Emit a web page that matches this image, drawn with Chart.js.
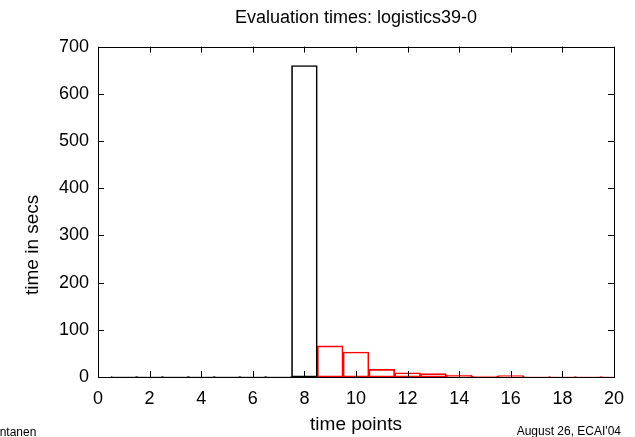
<!DOCTYPE html>
<html>
<head>
<meta charset="utf-8">
<script src="https://cdn.jsdelivr.net/npm/chart.js@4/dist/chart.umd.min.js"></script>
<style>
  html, body { margin: 0; padding: 0; background: #fff; }
  #wrap { position: relative; width: 635px; height: 437px; overflow: hidden; }
  .foot { position: absolute; font-family: "Liberation Sans", Arial, sans-serif; font-size: 12px; color: #000; white-space: nowrap; }
</style>
</head>
<body>
<div id="wrap">
  <canvas id="evalChart" width="635" height="437"></canvas>
  <div class="foot" style="left:-3px; top:425px;">intanen</div>
  <div class="foot" style="right:14px; top:424px;">August 26, ECAI'04</div>
</div>
<script>
// values
const titleText = 'Evaluation times: logistics39-0';
const yAxisLabel = 'time in secs';
const blackPoints = [1, 2, 3, 4, 5, 6, 7, 8];
const blackTimes = [1, 1, 1, 1, 1, 1, 1, 660];
const redPoints = [9, 10, 11, 12, 13, 14, 15, 16, 17, 18, 19, 20];
const redTimes = [66, 53, 16, 9, 7, 4, 2, 3, 1, 1, 1, 1];
const xTicks = [0, 2, 4, 6, 8, 10, 12, 14, 16, 18, 20];
const yTicks = [0, 100, 200, 300, 400, 500, 600, 700];

const FONT = '"Liberation Sans", Arial, Helvetica, sans-serif';

// gnuplot-style frame with inward ticks on all four sides
const frameTicks = {
  id: 'frameTicks',
  afterDatasetsDraw(chart) {
    const { ctx, chartArea: a, scales: { x, y } } = chart;
    const len = 6;
    ctx.save();
    ctx.strokeStyle = '#000';
    ctx.lineWidth = 1;
    ctx.beginPath();
    xTicks.forEach(v => {
      const px = Math.round(x.getPixelForValue(v)) + 0.5;
      ctx.moveTo(px, a.bottom); ctx.lineTo(px, a.bottom - len);
      ctx.moveTo(px, a.top); ctx.lineTo(px, a.top + len);
    });
    yTicks.forEach(v => {
      const py = Math.round(y.getPixelForValue(v)) + 0.5;
      ctx.moveTo(a.left, py); ctx.lineTo(a.left + len, py);
      ctx.moveTo(a.right, py); ctx.lineTo(a.right - len, py);
    });
    ctx.stroke();
    ctx.strokeRect(Math.round(a.left) + 0.5, Math.round(a.top) + 0.5,
      Math.round(a.right - a.left), Math.round(a.bottom - a.top));

    // y label sits a bit below the middle, like the gnuplot original
    ctx.translate(33, y.getPixelForValue(280));
    ctx.rotate(-Math.PI / 2);
    ctx.fillStyle = '#000';
    ctx.font = '19px ' + FONT;
    ctx.textAlign = 'center';
    ctx.textBaseline = 'middle';
    ctx.fillText(yAxisLabel, 0, 0);
    ctx.restore();
  }
};

const ctx = document.getElementById('evalChart').getContext('2d');
new Chart(ctx, {
  type: 'bar',
  data: {
    datasets: [{
      data: blackPoints.map((p, i) => ({ x: p, y: blackTimes[i] })),
      backgroundColor: 'rgba(0,0,0,0)',
      borderColor: '#000',
      borderWidth: 1,
      borderSkipped: false,
      barPercentage: 1,
      categoryPercentage: 1,
      grouped: false
    }, {
      data: redPoints.map((p, i) => ({ x: p, y: redTimes[i] })),
      backgroundColor: 'rgba(0,0,0,0)',
      borderColor: '#ff0000',
      borderWidth: 1,
      borderSkipped: false,
      barPercentage: 1,
      categoryPercentage: 1,
      grouped: false
    }]
  },
  options: {
    responsive: false,
    animation: false,
    devicePixelRatio: 1,
    layout: { padding: { top: 0, right: 19, bottom: 0, left: 0 } },
    plugins: {
      legend: { display: false },
      tooltip: { enabled: false },
      title: {
        display: true,
        fullSize: false,
        text: titleText,
        color: '#000',
        font: { family: FONT, size: 18, weight: 'normal', lineHeight: 1.2 },
        padding: { top: 7, bottom: 18 }
      }
    },
    scales: {
      x: {
        type: 'linear',
        min: 0,
        max: 20,
        offset: false,
        grid: { display: false, drawTicks: false, offset: false },
        border: { display: false },
        afterBuildTicks: s => { s.ticks = xTicks.map(v => ({ value: v })); },
        afterFit: s => { s.height = 60; },
        ticks: {
          color: '#000',
          padding: 11,
          maxRotation: 0,
          font: { family: FONT, size: 18 }
        },
        title: {
          display: true,
          text: 'time points',
          color: '#000',
          font: { family: FONT, size: 19 },
          padding: { top: 0, bottom: 1 }
        }
      },
      y: {
        min: 0,
        max: 700,
        grid: { display: false, drawTicks: false },
        border: { display: false },
        afterBuildTicks: s => { s.ticks = yTicks.map(v => ({ value: v })); },
        afterFit: s => { s.width = 98; },
        ticks: {
          color: '#000',
          padding: 9,
          font: { family: FONT, size: 18 }
        },
        title: { display: false }
      }
    }
  },
  plugins: [frameTicks]
});
</script>
</body>
</html>
